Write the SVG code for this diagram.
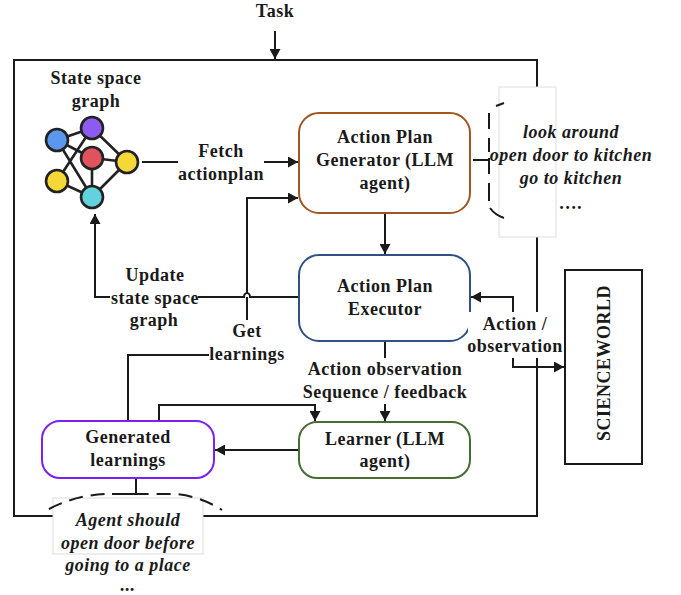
<svg xmlns="http://www.w3.org/2000/svg" width="681" height="595" viewBox="0 0 681 595">
<defs>
<marker id="a" markerUnits="userSpaceOnUse" markerWidth="11" markerHeight="11" refX="10" refY="5.5" orient="auto"><path d="M0 0L10 5.500L0 11Z" fill="#1a1a1a"/></marker>
</defs>
<style>
text{font-family:"Liberation Serif","Times New Roman",serif;font-size:18px;letter-spacing:.5px;font-weight:bold;fill:#1a1a1a;text-anchor:middle}
.i{font-style:italic}
.l{fill:none;stroke:#1a1a1a;stroke-width:2}
.n{fill:#fff;stroke-width:2}
.e{stroke:#222;stroke-width:2.6;fill:none}
.g{stroke:#222;stroke-width:2.6}
.d{fill:none;stroke:#1a1a1a;stroke-width:2;stroke-dasharray:14 8}
</style>
<rect width="681" height="595" fill="#fff"/>
<g id="frame"><rect x="14" y="60" width="523" height="456" fill="none" stroke="#1a1a1a" stroke-width="2"/></g>
<g id="connectors">
<path class="l" marker-end="url(#a)" d="M275 31V59"/>
<path class="l" d="M142 162H178"/>
<path class="l" marker-end="url(#a)" d="M264 162H298"/>
<path class="l" marker-end="url(#a)" d="M247 293V198H298"/>
<path class="l" d="M299 297H250a3 4 0 0 0-6 0H198"/>
<path class="l" marker-end="url(#a)" d="M110 297H95V214"/>
<path class="l" marker-end="url(#a)" d="M385 213V254"/>
<path class="l" d="M247 297V320"/>
<path class="l" d="M209 355H128V421"/>
<path class="l" marker-end="url(#a)" d="M159 421V405H315V421"/>
<path class="l" d="M385 341V358"/>
<path class="l" marker-end="url(#a)" d="M385 404V421"/>
<path class="l" marker-end="url(#a)" d="M299 450H215"/>
<path class="l" marker-end="url(#a)" d="M513 312V297H471"/>
<path class="l" marker-end="url(#a)" d="M513 358V367H564"/>
<path class="l" d="M136 478V494H112"/>
<path class="l" d="M473 160H489"/>
</g>
<g id="state-space-graph">
<path class="e" d="M57 140L92 128M57 140L92 158M57 140L92 197M57 181L92 128M57 181L92 197M92 128L127 162M92 158L127 162M92 158L92 197M127 162L92 197"/>
<circle class="g" cx="57" cy="140" r="11" fill="#5b97ee"/>
<circle class="g" cx="92" cy="128" r="11" fill="#8a5cf2"/>
<circle class="g" cx="92" cy="158" r="11" fill="#e0525e"/>
<circle class="g" cx="127" cy="162" r="11" fill="#f5d838"/>
<circle class="g" cx="57" cy="181" r="11" fill="#f5d838"/>
<circle class="g" cx="92" cy="197" r="11" fill="#62d2dc"/>
<text x="96" y="84">State space</text>
<text x="96" y="107">graph</text>
</g>
<g id="action-plan-generator"><rect class="n" x="299" y="113" width="171" height="100" rx="20" stroke="#a0561e"/>
<text x="385" y="143">Action Plan</text><text x="385" y="166">Generator (LLM</text><text x="385" y="189">agent)</text></g>
<g id="action-plan-executor"><rect class="n" x="299" y="255" width="171" height="86" rx="20" stroke="#2f5080"/>
<text x="385" y="292">Action Plan</text><text x="385" y="315">Executor</text></g>
<g id="learner"><rect class="n" x="299" y="422" width="171" height="56" rx="18" stroke="#4a6b35"/>
<text x="385" y="445">Learner (LLM</text><text x="385" y="467">agent)</text></g>
<g id="generated-learnings"><rect class="n" x="42" y="421" width="172" height="57" rx="18" stroke="#7a20f0"/>
<text x="128" y="443">Generated</text><text x="128" y="466">learnings</text></g>
<g id="scienceworld"><rect x="565" y="270" width="77" height="194" fill="#fff" stroke="#1a1a1a" stroke-width="2"/>
<text transform="translate(610 363) rotate(-90)">SCIENCEWORLD</text></g>
<g id="plan-note">
<rect x="499" y="87" width="57" height="150" fill="#fff" stroke="#ddd" stroke-width="1"/>
<path class="l" d="M496 106L504 103M489 113V129M489 138V152M489 158V174M489 183V201M490 208Q495 215 504 218"/>
<text class="i" x="571" y="138">look around</text>
<text class="i" x="571" y="161">open door to kitchen</text>
<text class="i" x="571" y="184">go to kitchen</text>
<text class="i" x="571" y="209">….</text>
</g>
<g id="learning-note">
<rect x="53" y="498" width="150" height="56" fill="#fff" stroke="#ddd" stroke-width="1"/>
<path class="d" d="M49 509Q78 494 110 494H175Q200 496 222 510"/>
<text class="i" x="128" y="526">Agent should</text>
<text class="i" x="128" y="549">open door before</text>
<text class="i" x="128" y="571">going to a place</text>
<text class="i" x="128" y="591">...</text>
</g>
<g id="label-mask"><rect x="468" y="312" width="94" height="46" fill="#fff"/></g>
<g id="labels">
<text x="275" y="17">Task</text>
<text x="221" y="157">Fetch</text>
<text x="221" y="180">actionplan</text>
<text x="155" y="281">Update</text>
<text x="155" y="304">state space</text>
<text x="154" y="326">graph</text>
<text x="247" y="337">Get</text>
<text x="247" y="360">learnings</text>
<text x="385" y="375">Action observation</text>
<text x="385" y="398">Sequence / feedback</text>
<text x="515" y="330">Action /</text>
<text x="515" y="352">observation</text>
</g>
</svg>
